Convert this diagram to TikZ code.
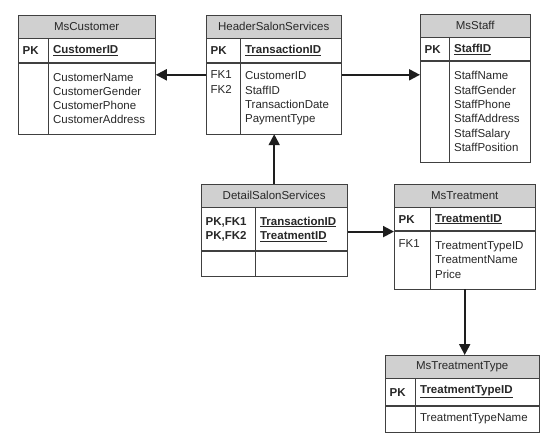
\documentclass[tikz,border=0pt]{standalone}
\usepackage{fontspec}
\setmainfont{Liberation Sans}
\usetikzlibrary{positioning, arrows.meta, calc}
\definecolor{headg}{RGB}{208,208,208}
\definecolor{edgeg}{RGB}{64,64,64}
\definecolor{textg}{RGB}{40,40,40}
\definecolor{lineg}{RGB}{30,30,30}

\begin{document}
\begin{tikzpicture}[x=1pt, y=-1pt,
    font=\fontsize{11.5}{14.3}\selectfont, text=textg,
    title/.style={draw=edgeg, fill=headg, inner sep=0pt, minimum width=#1, minimum height=23pt},
    cell/.style={draw=edgeg, fill=white, inner xsep=4.5pt, inner ysep=0pt, align=left, text width=#1},
    fk/.style={-{Triangle[length=11pt, width=11pt]}, line width=2pt, draw=lineg}]
  \useasboundingbox (0,0) rectangle (551,445);
  % MsCustomer
  \node [title=137pt, anchor=north west] (cust) at (18,15) {MsCustomer};
  \node [cell=21pt, minimum height=24pt, below right=0pt and 0pt of cust.south west] (custkl) {\textbf{PK}};
  \node [cell=98pt, minimum height=24pt, right=0pt of custkl] (custkr) {\textbf{\underline{CustomerID}}};
  \node [cell=21pt, minimum height=71pt, below=0pt of custkl] (custbl) {};
  \node [cell=98pt, minimum height=71pt, below=0pt of custkr] (custbr)
    {CustomerName\\CustomerGender\\CustomerPhone\\CustomerAddress};
  % HeaderSalonServices
  \node [title=135pt, anchor=north west] (hss) at (206,15) {HeaderSalonServices};
  \node [cell=25pt, minimum height=24pt, below right=0pt and 0pt of hss.south west] (hsskl) {\textbf{PK}};
  \node [cell=92pt, minimum height=24pt, right=0pt of hsskl] (hsskr) {\textbf{\underline{TransactionID}}};
  \node [cell=25pt, minimum height=71pt, below=0pt of hsskl] (hssbl) {FK1\\FK2\\\strut\\\strut};
  \node [cell=92pt, minimum height=71pt, below=0pt of hsskr] (hssbr)
    {CustomerID\\StaffID\\TransactionDate\\PaymentType};
  % MsStaff
  \node [title=110pt, anchor=north west] (staff) at (420,14) {MsStaff};
  \node [cell=20pt, minimum height=23pt, below right=0pt and 0pt of staff.south west] (staffkl) {\textbf{PK}};
  \node [cell=72pt, minimum height=23pt, right=0pt of staffkl] (staffkr) {\textbf{\underline{StaffID}}};
  \node [cell=20pt, minimum height=101pt, below=0pt of staffkl] (staffbl) {};
  \node [cell=72pt, minimum height=101pt, below=0pt of staffkr] (staffbr)
    {StaffName\\StaffGender\\StaffPhone\\StaffAddress\\StaffSalary\\StaffPosition};
  % DetailSalonServices
  \node [title=146pt, anchor=north west] (dss) at (201,184) {DetailSalonServices};
  \node [cell=45pt, minimum height=43pt, below right=0pt and 0pt of dss.south west] (dsskl)
    {\textbf{PK,FK1}\\\textbf{PK,FK2}};
  \node [cell=83pt, minimum height=43pt, right=0pt of dsskl] (dsskr)
    {\textbf{\underline{TransactionID}}\\\textbf{\underline{TreatmentID}}};
  \node [cell=45pt, minimum height=25pt, below=0pt of dsskl] (dssbl) {};
  \node [cell=83pt, minimum height=25pt, below=0pt of dsskr] (dssbr) {};
  % MsTreatment
  \node [title=141pt, anchor=north west] (trt) at (394,184) {MsTreatment};
  \node [cell=27pt, minimum height=23pt, below right=0pt and 0pt of trt.south west] (trtkl) {\textbf{PK}};
  \node [cell=96pt, minimum height=23pt, right=0pt of trtkl] (trtkr) {\textbf{\underline{TreatmentID}}};
  \node [cell=27pt, minimum height=58pt, below=0pt of trtkl] (trtbl) {FK1\\\strut\\\strut};
  \node [cell=96pt, minimum height=58pt, below=0pt of trtkr] (trtbr)
    {TreatmentTypeID\\TreatmentName\\Price};
  % MsTreatmentType
  \node [title=154pt, anchor=north west] (ttype) at (385,355) {MsTreatmentType};
  \node [cell=21pt, minimum height=27pt, below right=0pt and 0pt of ttype.south west] (ttypekl) {\textbf{PK}};
  \node [cell=115pt, minimum height=27pt, right=0pt of ttypekl] (ttypekr) {\textbf{\underline{TreatmentTypeID}}};
  \node [cell=21pt, minimum height=26pt, below=0pt of ttypekl] (ttypebl) {};
  \node [cell=115pt, minimum height=26pt, below=0pt of ttypekr] (ttypebr) {TreatmentTypeName};
  % references
  \draw [fk] ([yshift=-12pt]hssbl.north west) -- ([yshift=-12pt]custbr.north east);
  \draw [fk] ([yshift=-12pt]hssbr.north east) -- ([yshift=-12pt]hssbr.north east -| staffbl.west);
  \draw [fk] (dss.north) -- (dss.north |- hssbr.south);
  \draw [fk] ([yshift=-2.5pt]dsskr.east) -- ([yshift=-2.5pt]dsskr.east -| trtkl.west);
  \draw [fk] ([xshift=2.5pt]ttype.north |- trtbr.south) -- ([xshift=2.5pt]ttype.north);
\end{tikzpicture}
\end{document}
